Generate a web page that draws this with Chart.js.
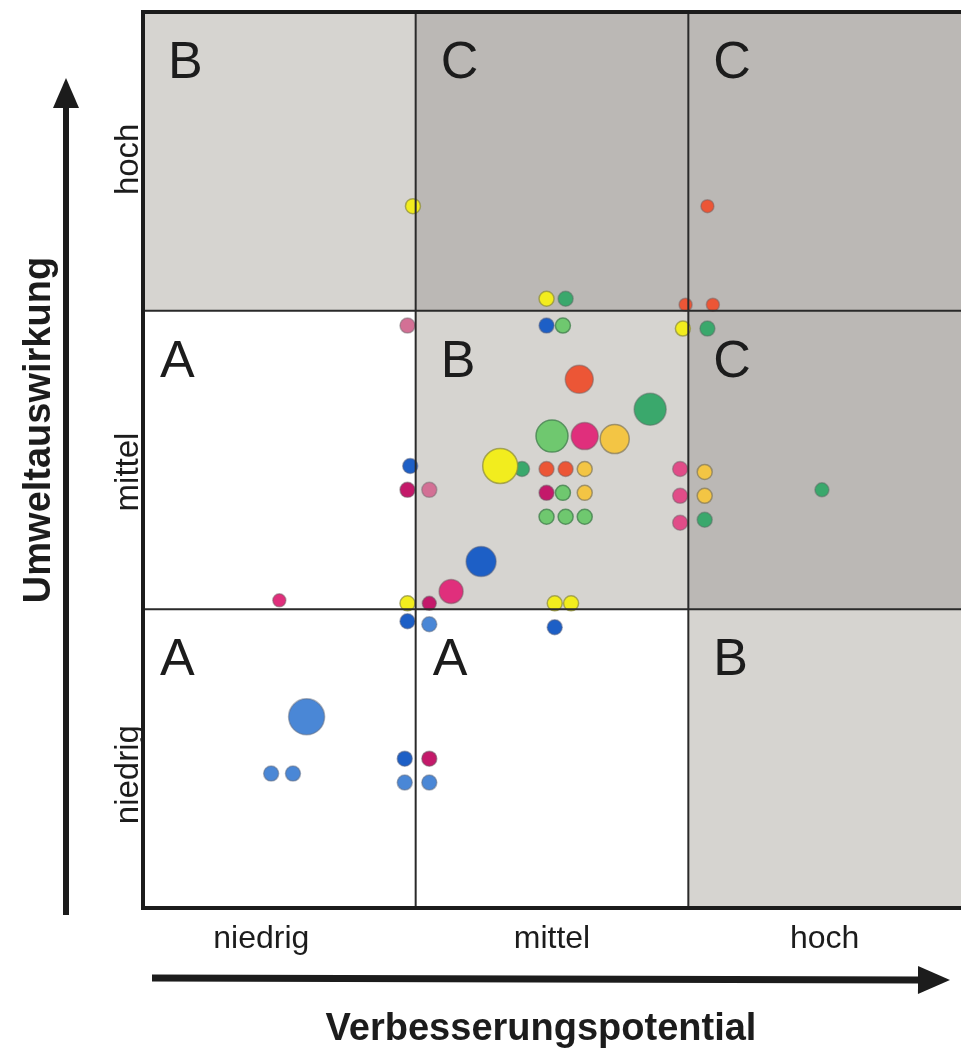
<!DOCTYPE html>
<html>
<head>
<meta charset="utf-8">
<script src="https://cdn.jsdelivr.net/npm/chart.js@4"></script>
<style>
  body { margin: 0; background: #fff; }
  canvas { display: block; }
</style>
</head>
<body>
<canvas id="chart" width="961" height="1057"></canvas>
<script>
// axis categories
const X_LABELS = ['niedrig', 'mittel', 'hoch']
const Y_LABELS = ['niedrig', 'mittel', 'hoch']
const X_TITLE = 'Verbesserungspotential'
const Y_TITLE = 'Umweltauswirkung'

// class of each cell, rows bottom -> top, columns left -> right
const CELL_CLASSES = [
    ['A', 'A', 'B'],
    ['A', 'B', 'C'],
    ['B', 'C', 'C']
]

// bubbles grouped by colour (x, y in cell units 0..3, r = bubble size)
const YELLOW = [
    {x: 0.99, y: 2.35, r: 7.5}, {x: 1.48, y: 2.04, r: 7.5}, {x: 1.98, y: 1.94, r: 7.5},
    {x: 1.31, y: 1.48, r: 17.5}, {x: 0.97, y: 1.02, r: 7.5}, {x: 1.51, y: 1.02, r: 7.5},
    {x: 1.57, y: 1.02, r: 7.5}
]
const AMBER = [
    {x: 1.73, y: 1.57, r: 14.5}, {x: 1.62, y: 1.47, r: 7.5}, {x: 1.62, y: 1.39, r: 7.5},
    {x: 2.06, y: 1.46, r: 7.5}, {x: 2.06, y: 1.38, r: 7.5}
]
const RED = [
    {x: 2.07, y: 2.35, r: 6.5}, {x: 1.99, y: 2.02, r: 6.5}, {x: 2.09, y: 2.02, r: 6.5},
    {x: 1.60, y: 1.77, r: 14}, {x: 1.48, y: 1.47, r: 7.5}, {x: 1.55, y: 1.47, r: 7.5}
]
const GREEN = [
    {x: 1.55, y: 2.04, r: 7.5}, {x: 2.07, y: 1.94, r: 7.5}, {x: 1.86, y: 1.67, r: 16},
    {x: 1.39, y: 1.47, r: 7.5}, {x: 2.06, y: 1.30, r: 7.5}, {x: 2.49, y: 1.40, r: 7}
]
const LIGHT_GREEN = [
    {x: 1.54, y: 1.95, r: 7.5}, {x: 1.50, y: 1.58, r: 16}, {x: 1.54, y: 1.39, r: 7.5},
    {x: 1.48, y: 1.31, r: 7.5}, {x: 1.55, y: 1.31, r: 7.5}, {x: 1.62, y: 1.31, r: 7.5}
]
const MAGENTA = [
    {x: 1.62, y: 1.58, r: 13.5}, {x: 1.13, y: 1.06, r: 12}, {x: 0.50, y: 1.03, r: 6.5}
]
const ROSE = [
    {x: 1.97, y: 1.47, r: 7.5}, {x: 1.97, y: 1.38, r: 7.5}, {x: 1.97, y: 1.29, r: 7.5}
]
const CRIMSON = [
    {x: 1.48, y: 1.39, r: 7.5}, {x: 0.97, y: 1.40, r: 7.5}, {x: 1.05, y: 1.02, r: 7},
    {x: 1.05, y: 0.50, r: 7.5}
]
const PINK = [
    {x: 0.97, y: 1.95, r: 7.5}, {x: 1.05, y: 1.40, r: 7.5}
]
const BLUE = [
    {x: 1.48, y: 1.95, r: 7.5}, {x: 0.98, y: 1.48, r: 7.5}, {x: 1.24, y: 1.16, r: 15},
    {x: 0.97, y: 0.96, r: 7.5}, {x: 1.51, y: 0.94, r: 7.5}, {x: 0.96, y: 0.50, r: 7.5}
]
const SKY_BLUE = [
    {x: 1.05, y: 0.95, r: 7.5}, {x: 0.60, y: 0.64, r: 18}, {x: 0.47, y: 0.45, r: 7.5},
    {x: 0.55, y: 0.45, r: 7.5}, {x: 0.96, y: 0.42, r: 7.5}, {x: 1.05, y: 0.42, r: 7.5}
]

const CELL_COLORS = {A: '#ffffff', B: '#d6d4d0', C: '#bbb8b5'}
const INK = '#1c1c1c'
const FONT = '"Liberation Sans", Arial, sans-serif'

const series = [
    [YELLOW, '#f2ed1e', 'rgba(140,140,60,0.7)'],
    [AMBER, '#f3c544', 'rgba(130,120,90,0.7)'],
    [RED, '#ec5636', 'rgba(120,100,100,0.5)'],
    [GREEN, '#3aa86c', 'rgba(90,110,100,0.5)'],
    [LIGHT_GREEN, '#6fc86f', 'rgba(70,130,80,0.8)'],
    [MAGENTA, '#e02f7c', 'rgba(120,90,100,0.5)'],
    [ROSE, '#e14c88', 'rgba(120,100,110,0.5)'],
    [CRIMSON, '#c4196a', 'rgba(110,90,100,0.5)'],
    [PINK, '#d37095', 'rgba(120,110,115,0.5)'],
    [BLUE, '#1d5fc6', 'rgba(90,100,130,0.5)'],
    [SKY_BLUE, '#4a87d6', 'rgba(100,110,130,0.5)']
]

function arrow(ctx, x1, y1, x2, y2, shaft, head, headLen) {
    const a = Math.atan2(y2 - y1, x2 - x1)
    const bx = x2 - Math.cos(a) * headLen
    const by = y2 - Math.sin(a) * headLen
    ctx.strokeStyle = INK
    ctx.fillStyle = INK
    ctx.lineWidth = shaft
    ctx.beginPath()
    ctx.moveTo(x1, y1)
    ctx.lineTo(bx, by)
    ctx.stroke()
    ctx.beginPath()
    ctx.moveTo(x2, y2)
    ctx.lineTo(bx - Math.sin(a) * head, by + Math.cos(a) * head)
    ctx.lineTo(bx + Math.sin(a) * head, by - Math.cos(a) * head)
    ctx.closePath()
    ctx.fill()
}

const matrixPlugin = {
    id: 'matrix',
    beforeDatasetsDraw(chart) {
        const {ctx, scales: {x, y}} = chart
        ctx.save()
        ctx.font = '52px ' + FONT
        ctx.textAlign = 'left'
        ctx.textBaseline = 'alphabetic'
        for (let row = 0; row < 3; row++) {
            for (let col = 0; col < 3; col++) {
                const cls = CELL_CLASSES[row][col]
                const left = x.getPixelForValue(col)
                const right = x.getPixelForValue(col + 1)
                const top = y.getPixelForValue(row + 1)
                const bottom = y.getPixelForValue(row)
                ctx.fillStyle = CELL_COLORS[cls]
                ctx.fillRect(left, top, right - left, bottom - top)
                ctx.fillStyle = INK
                ctx.fillText(cls, left + (cls === 'A' ? 17 : 25), top + 66)
            }
        }
        ctx.restore()
    },
    afterDatasetsDraw(chart) {
        const {ctx, chartArea: ca, scales: {x, y}} = chart
        ctx.save()
        ctx.strokeStyle = '#2a2a2a'
        ctx.lineWidth = 2
        for (let i = 1; i < 3; i++) {
            const px = x.getPixelForValue(i)
            const py = y.getPixelForValue(i)
            ctx.beginPath()
            ctx.moveTo(px, ca.top)
            ctx.lineTo(px, ca.bottom)
            ctx.moveTo(ca.left, py)
            ctx.lineTo(ca.right, py)
            ctx.stroke()
        }
        ctx.strokeStyle = INK
        ctx.lineWidth = 4
        ctx.beginPath()
        ctx.moveTo(ca.right, ca.top)
        ctx.lineTo(ca.left, ca.top)
        ctx.lineTo(ca.left, ca.bottom)
        ctx.lineTo(ca.right, ca.bottom)
        ctx.stroke()
        ctx.restore()
    },
    afterDraw(chart) {
        const {ctx, scales: {x, y}} = chart
        ctx.save()
        ctx.fillStyle = INK
        // bottom tick labels
        ctx.font = '32px ' + FONT
        ctx.textAlign = 'center'
        ctx.textBaseline = 'alphabetic'
        X_LABELS.forEach((lab, i) => {
            ctx.fillText(lab, x.getPixelForValue(i + 0.5) - (i === 0 ? 18 : 0), 948)
        })
        // left tick labels (rotated)
        ctx.font = '33px ' + FONT
        const nudge = [16, 12, -2]
        Y_LABELS.forEach((lab, i) => {
            ctx.save()
            ctx.translate(138, y.getPixelForValue(i + 0.5) + nudge[i])
            ctx.rotate(-Math.PI / 2)
            ctx.fillText(lab, 0, 0)
            ctx.restore()
        })
        // titles
        ctx.font = 'bold 38px ' + FONT
        ctx.fillText(X_TITLE, 541, 1040)
        ctx.save()
        ctx.translate(50, 430)
        ctx.rotate(-Math.PI / 2)
        ctx.fillText(Y_TITLE, 0, 0)
        ctx.restore()
        // arrows
        arrow(ctx, 66, 915, 66, 78, 6, 13, 30)
        arrow(ctx, 152, 978, 950, 980, 7, 14, 32)
        ctx.restore()
    }
}

const canvas = document.getElementById('chart')
const chart = new Chart(canvas.getContext('2d'), {
    type: 'bubble',
    data: {
        datasets: series.map(([pts, fill, ring]) => ({
            data: pts,
            backgroundColor: fill,
            borderColor: ring,
            borderWidth: 1.5
        }))
    },
    options: {
        responsive: false,
        animation: false,
        layout: {autoPadding: false, padding: {left: 143, right: 0, top: 12, bottom: 149}},
        scales: {
            x: {type: 'linear', min: 0, max: 3, display: false},
            y: {type: 'linear', min: 0, max: 3, display: false}
        },
        plugins: {
            legend: {display: false},
            tooltip: {enabled: false}
        }
    },
    plugins: [matrixPlugin]
})
</script>
</body>
</html>
